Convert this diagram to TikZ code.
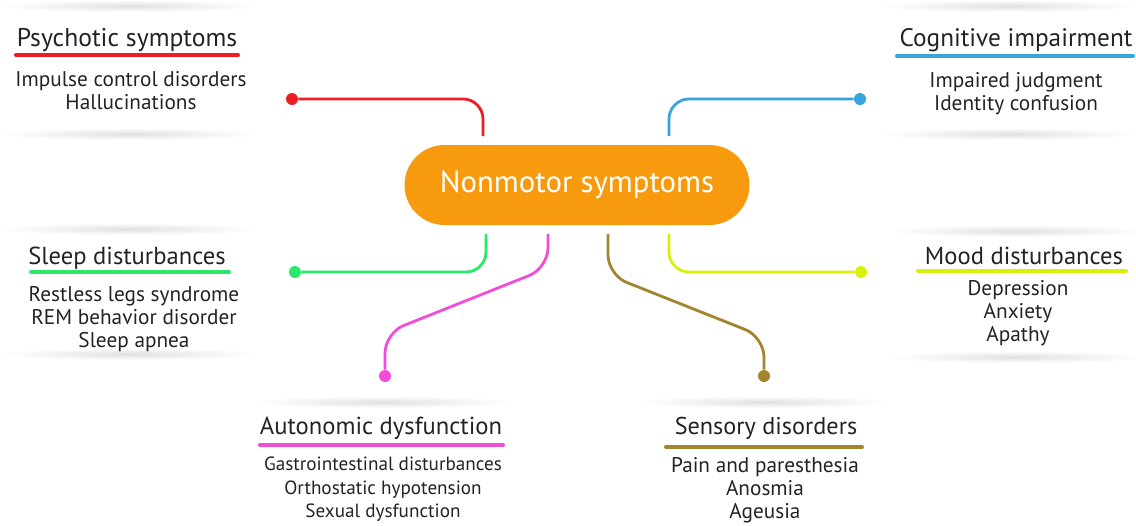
\documentclass[tikz,border=0pt]{standalone}
\usepackage{fontspec}
\setmainfont{PT Sans}
\usetikzlibrary{calc}
\definecolor{pillorange}{HTML}{F89A0E}
\definecolor{psyred}{HTML}{EE1C25}
\definecolor{cogblue}{HTML}{3AA3DC}
\definecolor{sleepgreen}{HTML}{2BE86A}
\definecolor{moodyellow}{HTML}{D9F00A}
\definecolor{automagenta}{HTML}{F24DD6}
\definecolor{sensolive}{HTML}{A2852E}
\definecolor{txtgray}{HTML}{232323}

\begin{document}
\begin{tikzpicture}[x=.02cm,y=-.02cm,
  title/.style={text=txtgray,font=\fontsize{14}{16}\selectfont,inner sep=0pt},
  items/.style={text=txtgray,font=\fontsize{12.1}{13.2}\selectfont,align=center,inner sep=0pt},
  smallitems/.style={items,font=\fontsize{10.9}{13.2}\selectfont},
  uline/.style={line width=2.3pt,line cap=round},
  conn/.style={line width=1.6pt,rounded corners=.4cm,shorten <=.17cm},
  dot/.style={circle,fill,inner sep=0pt,minimum size=.24cm}]
\useasboundingbox (0,0) rectangle (1136,525);
% soft shadows round the panels
\foreach \x/\y in {130/6,130/134,1008/6,1008/134,130/229,130/354,1018/231,1018/357,382/402,764/402}
  {\shade[inner color=black!12,outer color=white] (\x,\y) ellipse (2.6cm and .12cm);}

% centre
\node[fill=pillorange,rounded corners=.8cm,minimum width=6.9cm,minimum height=1.6cm,
  text=white,font=\fontsize{17.5}{20}\selectfont] (pill) at (577,185) {Nonmotor symptoms};

% end points
\node[dot,psyred] (psydot) at (292,99) {};
\node[dot,cogblue] (cogdot) at (860,99) {};
\node[dot,sleepgreen] (sleepdot) at (295,272) {};
\node[dot,moodyellow] (mooddot) at (861,272) {};
\node[dot,automagenta] (autodot) at (385,376) {};
\node[dot,sensolive] (sensdot) at (764,376) {};
\coordinate (c1) at (483,0);
\coordinate (c2) at (669,0);
\coordinate (c3) at (486,0);
\coordinate (c4) at (548,0);
\coordinate (c5) at (608,0);

\draw[conn,psyred] (pill.north -| c1) |- (psydot);
\draw[conn,cogblue] (pill.north -| c2) |- (cogdot);
\draw[conn,sleepgreen] (pill.south -| c3) |- (sleepdot);
\draw[conn,moodyellow] (pill.south -| c2) |- (mooddot);
\draw[conn,automagenta] (pill.south -| c4) -- (548,268) -- (385,333) -- (autodot);
\draw[conn,sensolive] (pill.south -| c5) -- (608,275) -- (764,337) -- (sensdot);

% panels
\node[title,font=\fontsize{14.6}{16}\selectfont] (psy) at (127,40) {Psychotic symptoms};
\draw[uline,psyred] (16,55) -- (238,55);
\node[items,anchor=north] (psyitems) at (131,71) {Impulse control disorders\\Hallucinations};

\node[title,font=\fontsize{14.4}{16}\selectfont] (cog) at (1016,40) {Cognitive impairment};
\draw[uline,cogblue] (897,56) -- (1133,56);
\node[items,anchor=north] (cogitems) at (1016,72) {Impaired judgment\\Identity confusion};

\node[title] (sleep) at (127,258) {Sleep disturbances};
\draw[uline,sleepgreen] (31,272) -- (229,272);
\node[items,anchor=north] (sleepitems) at (134,286) {Restless legs syndrome\\REM behavior disorder\\Sleep apnea};

\node[title] (mood) at (1024,256) {Mood disturbances};
\draw[uline,moodyellow] (918,271) -- (1126,271);
\node[items,anchor=north] (mooditems) at (1018,280) {Depression\\Anxiety\\Apathy};

\node[title] (auto) at (381,428) {Autonomic dysfunction};
\draw[uline,automagenta] (260,445) -- (503,445);
\node[smallitems,anchor=north] (autoitems) at (383,457) {Gastrointestinal disturbances\\Orthostatic hypotension\\Sexual dysfunction};

\node[title,font=\fontsize{13.8}{16}\selectfont] (sens) at (766,428) {Sensory disorders};
\draw[uline,sensolive] (666,447) -- (862,447);
\node[items,anchor=north] (sensitems) at (765,457) {Pain and paresthesia\\Anosmia\\Ageusia};
\end{tikzpicture}
\end{document}
